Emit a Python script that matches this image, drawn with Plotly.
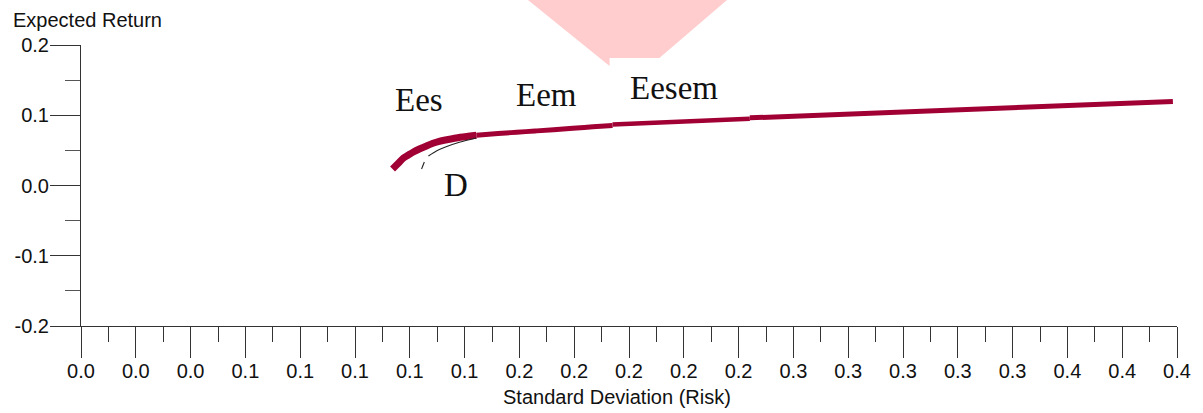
import plotly.graph_objects as go

# Efficient-frontier segments: (standard deviation, expected return)
ees_sd = [0.1137, 0.1159, 0.1177, 0.1195, 0.1213, 0.1235, 0.1261, 0.1282, 0.1304,
          0.1330, 0.1359, 0.1384, 0.1413, 0.1443]
ees_ret = [0.0235, 0.0320, 0.0391, 0.0434, 0.0477, 0.0520, 0.0562, 0.0598, 0.0626,
           0.0648, 0.0669, 0.0686, 0.0701, 0.0715]

eem_sd = [0.1443, 0.1522, 0.1590, 0.1657, 0.1725, 0.1795, 0.1868, 0.1940]
eem_ret = [0.0715, 0.0740, 0.0758, 0.0776, 0.0795, 0.0815, 0.0835, 0.0854]

eesem_sd = [0.1940, 0.1995, 0.2120, 0.2249, 0.2345, 0.2441]
eesem_ret = [0.0868, 0.0876, 0.0897, 0.0918, 0.0934, 0.0949]

tail_sd = [0.2441, 0.2612, 0.2856, 0.3157, 0.3459, 0.3702, 0.3985]
tail_ret = [0.0963, 0.0989, 0.1030, 0.1080, 0.1130, 0.1160, 0.1196]

# Thin curve D (None marks the short break near its lower end)
d_sd = [0.1243, 0.1253, None, 0.1268, 0.1297, 0.1330, 0.1384, 0.1442]
d_ret = [0.0235, 0.0335, None, 0.0420, 0.0491, 0.0548, 0.0619, 0.0676]

x_tick_vals = [round(0.02 * i, 2) for i in range(21)]
x_tick_text = ["0.0", "0.0", "0.0", "0.1", "0.1", "0.1", "0.1", "0.1",
               "0.2", "0.2", "0.2", "0.2", "0.2",
               "0.3", "0.3", "0.3", "0.3", "0.3",
               "0.4", "0.4", "0.4"]
x_minor_vals = [round(0.01 + 0.02 * i, 2) for i in range(20)]

y_tick_vals = [-0.2, -0.1, 0.0, 0.1, 0.2]
y_tick_text = ["-0.2", "-0.1", "0.0", "0.1", "0.2"]
y_minor_vals = [-0.15, -0.05, 0.05, 0.15]

curve_labels = ["Ees", "Eem", "Eesem", "D"]

W, H = 1203, 413
ML, MR, MT, MB = 81, 21, 45, 87
PW, PH = W - ML - MR, H - MT - MB

def px(xp):
    return (xp - ML) / PW

def py(yp):
    return (H - MB - yp) / PH

RED = "#a00034"
AXIS = "#333333"

fig = go.Figure()

for sd, ret, w, shp in [(ees_sd, ees_ret, 7, "spline"), (eem_sd, eem_ret, 5, "spline"),
                        (eesem_sd, eesem_ret, 4.5, "linear"), (tail_sd, tail_ret, 5, "linear")]:
    fig.add_trace(go.Scatter(x=sd, y=ret, mode="lines",
                             line=dict(color=RED, width=w, shape=shp, smoothing=1.0),
                             hoverinfo="skip", showlegend=False))

fig.add_trace(go.Scatter(x=d_sd, y=d_ret, mode="lines",
                         line=dict(color="#222222", width=1.1, shape="spline", smoothing=0.6),
                         connectgaps=False, hoverinfo="skip", showlegend=False))

# pale pink emblem at the top
pts = [(527.5, -2), (732.3, -2), (662, 58), (612, 58), (612, 66)]
path = "M " + " L ".join(f"{px(a):.5f},{py(b):.5f}" for a, b in pts) + " Z"
fig.add_shape(type="path", path=path, xref="paper", yref="paper",
              fillcolor="#ffcdcd", line=dict(width=0), layer="below")

label_pos = {"Ees": (0.1232, 0.1213), "Eem": (0.1700, 0.1288),
             "Eesem": (0.2165, 0.1388), "D": (0.1370, 0.0007)}
for lab in curve_labels:
    lx, ly = label_pos[lab]
    fig.add_annotation(x=lx, y=ly, xref="x", yref="y", text=lab, showarrow=False,
                       xanchor="center", yanchor="middle",
                       font=dict(family="Liberation Serif", size=33, color="#111111"))

fig.add_annotation(x=px(11), y=py(20), xref="paper", yref="paper",
                   text="Expected Return", showarrow=False,
                   xanchor="left", yanchor="middle",
                   font=dict(family="Liberation Sans", size=20, color="#111111"))
fig.add_annotation(x=px(619), y=py(396.5), xref="paper", yref="paper",
                   text="Standard Deviation (Risk)", showarrow=False,
                   xanchor="center", yanchor="middle",
                   font=dict(family="Liberation Sans", size=20, color="#111111"))

fig.update_xaxes(range=[0, 0.4], tickmode="array", tickvals=x_tick_vals, ticktext=x_tick_text,
                 ticks="outside", ticklen=31, tickwidth=1, tickcolor=AXIS,
                 showline=True, linecolor=AXIS, linewidth=1,
                 showgrid=False, zeroline=False, ticklabelstandoff=-4,
                 minor=dict(tickvals=x_minor_vals, ticks="outside", ticklen=15,
                            tickwidth=1, tickcolor=AXIS, showgrid=False),
                 tickfont=dict(family="Liberation Sans", size=20, color="#111111"))
fig.update_yaxes(range=[-0.2, 0.2], tickmode="array", tickvals=y_tick_vals, ticktext=y_tick_text,
                 ticks="outside", ticklen=30, tickwidth=1, tickcolor=AXIS,
                 showline=True, linecolor=AXIS, linewidth=1,
                 showgrid=False, zeroline=False, ticklabelstandoff=-3,
                 minor=dict(tickvals=y_minor_vals, ticks="outside", ticklen=15,
                            tickwidth=1, tickcolor="#555555", showgrid=False),
                 tickfont=dict(family="Liberation Sans", size=20, color="#111111"))

fig.update_layout(width=W, height=H, margin=dict(l=ML, r=MR, t=MT, b=MB),
                  paper_bgcolor="white", plot_bgcolor="white", showlegend=False)

fig.write_html("out.html")
